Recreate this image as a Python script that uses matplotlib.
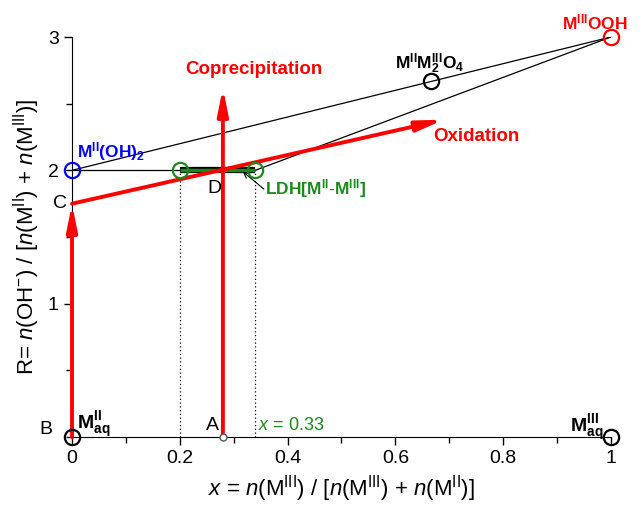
import matplotlib.pyplot as plt
from matplotlib.ticker import MultipleLocator

plt.rcParams['font.family'] = ['Liberation Sans', 'DejaVu Sans']
plt.rcParams['mathtext.fontset'] = 'custom'
plt.rcParams['mathtext.rm'] = 'Liberation Sans'
plt.rcParams['mathtext.it'] = 'Liberation Sans:italic'
plt.rcParams['mathtext.bf'] = 'Liberation Sans:bold'

# composition points (x, R)
m2_oh2 = (0.0, 2.0)
m3_ooh = (1.0, 3.0)
spinel = (0.667, 2.667)
ldh_low = (0.2, 2.0)
ldh_high = (0.34, 2.0)
m2_aq = (0.0, 0.0)
m3_aq = (1.0, 0.0)
point_a = (0.28, 0.0)
point_c = (0.0, 1.75)
point_d = (0.28, 2.0)
oxidation_end = (0.69, 2.38)
coprec_end = (0.28, 2.62)

fig = plt.figure(figsize=(6.43, 5.07), dpi=100)
ax = fig.add_axes([0.112, 0.138, 0.838, 0.789])
ax.set_xlim(0, 1)
ax.set_ylim(0, 3)

# tie lines
ax.plot([m2_oh2[0], m3_ooh[0]], [m2_oh2[1], m3_ooh[1]], color='black', lw=0.9)
ax.plot([m2_oh2[0], ldh_high[0]], [m2_oh2[1], ldh_high[1]], color='black', lw=0.9)
ax.plot([ldh_high[0], m3_ooh[0]], [ldh_high[1], m3_ooh[1]], color='black', lw=0.9)

# dotted guides
for xv in [ldh_low[0], ldh_high[0]]:
    ax.plot([xv, xv], [0, 2], color='black', ls=(0, (1, 2)), lw=0.9)

# LDH domain
ax.plot([ldh_low[0], ldh_high[0]], [2, 2], color='black', lw=4.5, solid_capstyle='butt')
ax.plot([ldh_low[0], ldh_high[0]], [2, 2], color='#1a8a1a', lw=2.5, solid_capstyle='butt')

# red arrows
arrow = dict(arrowstyle='-|>,head_width=0.22,head_length=1.1', lw=2.8, color='red',
             mutation_scale=14, shrinkA=0, shrinkB=0)
ax.annotate('', xy=point_c, xytext=m2_aq, arrowprops=arrow, annotation_clip=False)
ax.annotate('', xy=oxidation_end, xytext=point_c, arrowprops=arrow, annotation_clip=False)
ax.annotate('', xy=coprec_end, xytext=point_a, arrowprops=arrow)

# markers
mk = dict(ms=11, mfc='none', mew=1.6, clip_on=False, zorder=5)
ax.plot(*m2_oh2, 'o', mec='blue', **mk)
ax.plot(*m3_ooh, 'o', mec='red', **mk)
ax.plot(*spinel, 'o', mec='black', **mk)
ax.plot(*ldh_low, 'o', mec='#1a8a1a', **mk)
ax.plot(*ldh_high, 'o', mec='#1a8a1a', **mk)
ax.plot(*m2_aq, 'o', mec='black', **mk)
ax.plot(*m3_aq, 'o', mec='black', **mk)
ax.plot(*point_a, 'o', ms=5, mfc='white', mec='#555555', mew=1, clip_on=False, zorder=5)

# labels
ax.text(0.01, 2.1, r'$\mathbf{M^{II}(OH)_2}$', color='blue', fontsize=12.5)
ax.text(0.97, 3.06, r'$\mathbf{M^{III}OOH}$', color='red', fontsize=12.5, ha='center', clip_on=False)
ax.text(0.6, 2.76, r'$\mathbf{M^{II}M_2^{III}O_4}$', color='black', fontsize=12.5)
ax.text(0.21, 2.72, 'Coprecipitation', color='red', fontsize=13.5, fontweight='bold')
ax.text(0.67, 2.22, 'Oxidation', color='red', fontsize=13.5, fontweight='bold')
ax.text(0.358, 1.82, r'$\mathbf{LDH[M^{II}\text{-}M^{III}]}$', color='#1a8a1a', fontsize=12.5)
ax.annotate('', xy=(0.317, 1.99), xytext=(0.356, 1.86),
            arrowprops=dict(arrowstyle='->', color='black', lw=0.8, shrinkA=0, shrinkB=0))
ax.text(0.252, 1.83, 'D', fontsize=14)
ax.text(-0.035, 1.72, 'C', fontsize=14)
ax.text(-0.06, 0.02, 'B', fontsize=14, clip_on=False)
ax.text(0.248, 0.05, 'A', fontsize=14)
ax.text(0.345, 0.05, r'$x$ = 0.33', color='#1a8a1a', fontsize=13)
ax.text(0.01, 0.06, r'$\mathbf{M^{II}_{aq}}$', fontsize=14)
ax.text(0.925, 0.04, r'$\mathbf{M^{III}_{aq}}$', fontsize=14)

# axes styling
for s in ['top', 'right']:
    ax.spines[s].set_visible(False)
ax.spines['left'].set_bounds(0, 3)
ax.set_xticks([0, 0.2, 0.4, 0.6, 0.8, 1])
ax.set_xticklabels(['0', '0.2', '0.4', '0.6', '0.8', '1'])
ax.set_yticks([1, 2, 3])
ax.xaxis.set_minor_locator(MultipleLocator(0.1))
ax.yaxis.set_minor_locator(MultipleLocator(0.5))
ax.tick_params(labelsize=14, length=6, width=1)
ax.tick_params(which='minor', length=4, width=1)
ax.set_xlabel(r'$x$ = $n$(M$^{\rm III}$) / [$n$(M$^{\rm III}$) + $n$(M$^{\rm II}$)]', fontsize=16)
ax.set_ylabel(r'R= $n$(OH$^{-}$) / [$n$(M$^{\rm II}$) + $n$(M$^{\rm III}$)]', fontsize=16)

fig.savefig('out.png', dpi=100)
